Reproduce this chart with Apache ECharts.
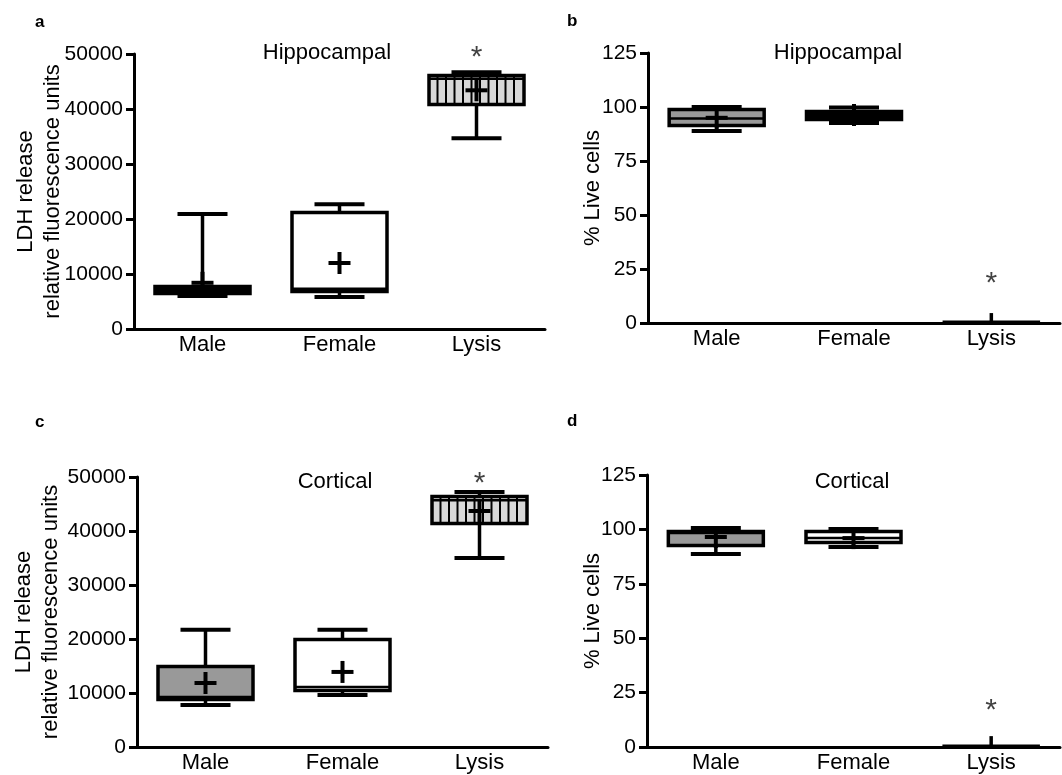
<!DOCTYPE html>
<html>
<head>
<meta charset="utf-8">
<script src="https://cdn.jsdelivr.net/npm/echarts@6/dist/echarts.min.js"></script>
<style>
	html, body { margin: 0; padding: 0; background: #fff; }
	#main { width: 1062px; height: 775px; }
</style>
</head>
<body>
<div id="main"></div>
<script>
	var categories = ['Male', 'Female', 'Lysis'];

	// each row: [min, q1, median, q3, max, mean]
	var hippoLDH = [
		[6000, 6450, 7100, 7730, 20900, 8400],
		[5800, 6800, 7300, 21200, 22700, 12000],
		[34700, 40800, 45500, 46100, 46700, 43400]
	];
	var hippoLive = [
		[88.9, 91.4, 94.7, 98.8, 100, 95],
		[92.6, 94.2, 96, 97.9, 99.8, 96.3],
		[0, 0.1, 0.3, 0.6, 4.6, 0.8]
	];
	var cortLDH = [
		[7800, 8800, 9260, 14900, 21700, 11850],
		[9630, 10460, 11100, 19900, 21700, 13900],
		[35000, 41400, 45700, 46400, 47200, 43700]
	];
	var cortLive = [
		[88.7, 92.6, 98.3, 99, 100.6, 96.5],
		[91.9, 94, 96, 99, 100.2, 96],
		[0, 0.1, 0.3, 0.6, 5, 0.8]
	];

	// significance marks [category index, value]
	var starHippoLDH = [2, 50500];
	var starHippoLive = [2, 21];
	var starCortLDH = [2, 49900];
	var starCortLive = [2, 19.5];

	var ldhTicks = { min: 0, max: 50000, interval: 10000 };
	var liveTicks = { min: 0, max: 125, interval: 25 };

	var FONT = "'Liberation Sans', Arial, sans-serif";

	// box fill for each panel (Male, Female, Lysis)
	var fills = [
		['#000', '#fff', '#d8d8d8'],
		['#999', '#000', '#fff'],
		['#999', '#fff', '#d8d8d8'],
		['#999', '#fff', '#fff']
	];
	var hatched = [true, false, true, false];
	// the flat lysis boxes on the live-cell panels show no caps and no mean cross
	var plainLysis = [false, true, false, true];

	function boxRenderer(panel) {
		return function(params, api) {
			var idx = api.value(0);
			var p = function(v) { return api.coord([idx, v]); };
			var pmin = p(api.value(1)), pq1 = p(api.value(2)), pmed = p(api.value(3)),
				pq3 = p(api.value(4)), pmax = p(api.value(5)), pmean = p(api.value(6));
			var cx = pmin[0];
			var bw = 95, cw = 50, pw = 11;
			var lw = 3.5;
			var plain = plainLysis[panel] && params.dataIndex === 2;
			var stroke = { stroke: '#000', lineWidth: lw };
			var kids = [];
			// whiskers
			kids.push({ type: 'line', shape: { x1: cx, y1: pq3[1], x2: cx, y2: pmax[1] }, style: stroke });
			kids.push({ type: 'line', shape: { x1: cx, y1: pq1[1], x2: cx, y2: pmin[1] }, style: stroke });
			if (!plain) {
				kids.push({ type: 'line', shape: { x1: cx - cw / 2, y1: pmax[1], x2: cx + cw / 2, y2: pmax[1] }, style: { stroke: '#000', lineWidth: 4 } });
				kids.push({ type: 'line', shape: { x1: cx - cw / 2, y1: pmin[1], x2: cx + cw / 2, y2: pmin[1] }, style: { stroke: '#000', lineWidth: 4 } });
			}
			// box
			var top = pq3[1], h = pq1[1] - pq3[1];
			kids.push({ type: 'rect', shape: { x: cx - bw / 2, y: top, width: bw, height: h },
				style: { fill: fills[panel][params.dataIndex], stroke: '#000', lineWidth: plain ? 2.5 : lw } });
			if (hatched[panel] && params.dataIndex === 2) {
				for (var hx = cx - bw / 2 + 8.5; hx < cx + bw / 2 - 3; hx += 8.5) {
					kids.push({ type: 'line', shape: { x1: hx, y1: top, x2: hx, y2: top + h }, style: { stroke: '#000', lineWidth: 2 } });
				}
			}
			// median
			kids.push({ type: 'line', shape: { x1: cx - bw / 2, y1: pmed[1], x2: cx + bw / 2, y2: pmed[1] }, style: { stroke: '#000', lineWidth: 2.5 } });
			// mean +
			if (!plain) {
				kids.push({ type: 'line', shape: { x1: cx - pw, y1: pmean[1], x2: cx + pw, y2: pmean[1] }, style: { stroke: '#000', lineWidth: 4 } });
				kids.push({ type: 'line', shape: { x1: cx, y1: pmean[1] - pw, x2: cx, y2: pmean[1] + pw }, style: { stroke: '#000', lineWidth: 4 } });
			}
			return { type: 'group', children: kids };
		};
	}

	function toItems(rows) {
		var out = [];
		for (var i = 0; i < rows.length; i++) {
			out.push([i].concat(rows[i]));
		}
		return out;
	}

	var grids = [
		{ left: 134, top: 54, width: 411, height: 275 },
		{ left: 648, top: 53, width: 412, height: 270 },
		{ left: 137, top: 477, width: 411, height: 270 },
		{ left: 647, top: 475, width: 413, height: 272 }
	];

	var yNames = [
		'LDH release\nrelative fluorescence units',
		'% Live cells',
		'LDH release\nrelative fluorescence units',
		'% Live cells'
	];
	var yGaps = [68, 42, 73, 41];
	var yScales = [ldhTicks, liveTicks, ldhTicks, liveTicks];
	var panelData = [hippoLDH, hippoLive, cortLDH, cortLive];
	var stars = [starHippoLDH, starHippoLive, starCortLDH, starCortLive];

	var xAxes = [], yAxes = [], series = [];
	for (var g = 0; g < 4; g++) {
		xAxes.push({
			type: 'category', gridIndex: g, data: categories, boundaryGap: true,
			axisLine: { lineStyle: { color: '#000', width: 3 } },
			axisTick: { show: false },
			axisLabel: { color: '#000', fontSize: 22, fontFamily: FONT, margin: 5 }
		});
		yAxes.push({
			type: 'value', gridIndex: g,
			min: yScales[g].min, max: yScales[g].max, interval: yScales[g].interval,
			name: yNames[g], nameLocation: 'middle', nameGap: yGaps[g], nameRotate: 90,
			nameMoveOverlap: false,
			nameTextStyle: { color: '#000', fontSize: 22, fontFamily: FONT, lineHeight: 27 },
			axisLine: { show: true, lineStyle: { color: '#000', width: 3 } },
			axisTick: { show: true, length: 8, lineStyle: { color: '#000', width: 3 } },
			axisLabel: { color: '#000', fontSize: 21, fontFamily: FONT, margin: 11,
				formatter: function(v) { return String(v); } },
			splitLine: { show: false }
		});
		series.push({
			type: 'custom', xAxisIndex: g, yAxisIndex: g,
			renderItem: boxRenderer(g),
			data: toItems(panelData[g]),
			clip: false,
			silent: true
		});
		series.push({
			type: 'scatter', xAxisIndex: g, yAxisIndex: g,
			symbolSize: 1, itemStyle: { color: 'rgba(0,0,0,0)' },
			data: [stars[g]],
			clip: false,
			label: { show: true, position: 'inside', formatter: '*', fontSize: 30, color: '#111', fontFamily: FONT, offset: [0, 6] },
			silent: true
		});
	}

	var titleStyle = { color: '#000', fontSize: 22, fontWeight: 'normal', fontFamily: FONT };
	var letterStyle = { color: '#000', fontSize: 17, fontWeight: 'bold', fontFamily: FONT };

	var option = {
		animation: false,
		backgroundColor: '#fff',
		title: [
			{ text: 'Hippocampal', left: 327, top: 42, textAlign: 'center', padding: 0, textStyle: titleStyle },
			{ text: 'Hippocampal', left: 838, top: 42, textAlign: 'center', padding: 0, textStyle: titleStyle },
			{ text: 'Cortical', left: 335, top: 471, textAlign: 'center', padding: 0, textStyle: titleStyle },
			{ text: 'Cortical', left: 852, top: 471, textAlign: 'center', padding: 0, textStyle: titleStyle },
			{ text: 'a', left: 35, top: 14, padding: 0, textStyle: letterStyle },
			{ text: 'b', left: 567, top: 13, padding: 0, textStyle: letterStyle },
			{ text: 'c', left: 35, top: 414, padding: 0, textStyle: letterStyle },
			{ text: 'd', left: 567, top: 413, padding: 0, textStyle: letterStyle }
		],
		grid: grids,
		xAxis: xAxes,
		yAxis: yAxes,
		series: series
	};

	var myChart = echarts.init(document.getElementById('main'));
	myChart.setOption(option);
</script>
</body>
</html>
